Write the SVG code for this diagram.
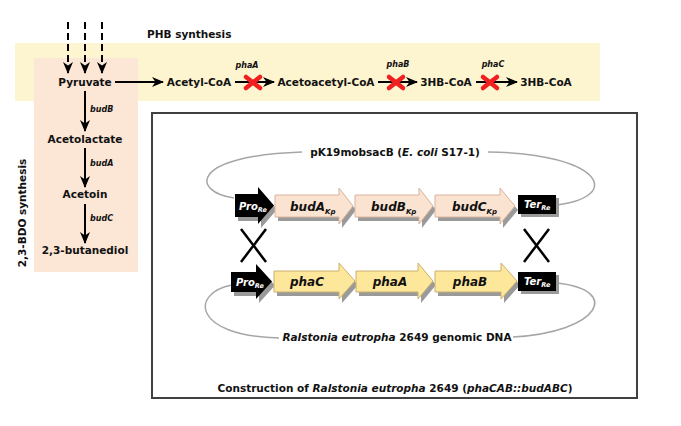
<svg xmlns="http://www.w3.org/2000/svg" width="681" height="426" viewBox="0 0 681 426">
<defs>
<style>
.t{font-family:"DejaVu Sans","Verdana",sans-serif;font-weight:bold;fill:#111}
.m{font-size:10.5px}
.s{font-size:8px;font-style:italic}
.g{font-size:12px;font-style:italic}
.w{font-size:10px;font-style:italic;fill:#fff}
.ln{stroke:#000;stroke-width:2;fill:none}
.x{stroke:#f02020;stroke-width:4.5;stroke-linecap:round}
.loop{stroke:#a6a6a6;stroke-width:1.5;fill:none}
.sh{fill:#9a9a9a}
.up{fill:#fbe3d2;stroke:#d8b49c;stroke-width:1}
.lo{fill:#fde79a;stroke:#c9b070;stroke-width:1}
.bk{fill:#000}
.cx{stroke:#000;stroke-width:2.5}
</style>
<marker id="ah" markerUnits="userSpaceOnUse" markerWidth="12" markerHeight="10" refX="11" refY="5" orient="auto" viewBox="0 0 12 10">
<path d="M0,0 L12,5 L0,10 L3.5,5 z" fill="#000"/>
</marker>
</defs>
<rect width="681" height="426" fill="#fff"/>
<rect x="15" y="43" width="585" height="58" fill="#fdf4d0"/>
<rect x="34" y="58" width="104" height="214" fill="#fce6d6"/>
<text class="t m" x="147" y="38">PHB synthesis</text>
<text class="t m" transform="translate(26,213) rotate(-90)" text-anchor="middle">2,3-BDO synthesis</text>

<g id="connectors">
<line class="ln" x1="68" y1="22" x2="68" y2="73" stroke-dasharray="7,4" marker-end="url(#ah)"/>
<line class="ln" x1="85" y1="22" x2="85" y2="73" stroke-dasharray="7,4" marker-end="url(#ah)"/>
<line class="ln" x1="102" y1="22" x2="102" y2="73" stroke-dasharray="7,4" marker-end="url(#ah)"/>
<line class="ln" x1="115" y1="82" x2="163" y2="82" marker-end="url(#ah)"/>
<line class="ln" x1="235" y1="82" x2="274" y2="82" marker-end="url(#ah)"/>
<line class="ln" x1="378" y1="82" x2="417" y2="82" marker-end="url(#ah)"/>
<line class="ln" x1="476" y1="82" x2="517" y2="82" marker-end="url(#ah)"/>
<line class="ln" x1="85" y1="91" x2="85" y2="131" marker-end="url(#ah)"/>
<line class="ln" x1="85" y1="148" x2="85" y2="187" marker-end="url(#ah)"/>
<line class="ln" x1="85" y1="204" x2="85" y2="243" marker-end="url(#ah)"/>
<g class="x"><line x1="246" y1="77" x2="260" y2="88"/><line x1="246" y1="88" x2="260" y2="77"/></g>
<g class="x"><line x1="389" y1="77" x2="403" y2="88"/><line x1="389" y1="88" x2="403" y2="77"/></g>
<g class="x"><line x1="483" y1="77" x2="497" y2="88"/><line x1="483" y1="88" x2="497" y2="77"/></g>
</g>
<text class="t s" x="247" y="68" text-anchor="middle">phaA</text>
<text class="t s" x="398" y="67" text-anchor="middle">phaB</text>
<text class="t s" x="493" y="67" text-anchor="middle">phaC</text>
<text class="t s" x="90" y="112">budB</text>
<text class="t s" x="90" y="166">budA</text>
<text class="t s" x="90" y="221">budC</text>

<g id="pyruvate"><text class="t m" x="85" y="86" text-anchor="middle">Pyruvate</text></g>
<g id="acetylcoa"><text class="t m" x="199" y="86" text-anchor="middle">Acetyl-CoA</text></g>
<g id="acetoacetylcoa"><text class="t m" x="326" y="86" text-anchor="middle">Acetoacetyl-CoA</text></g>
<g id="hbcoa1"><text class="t m" x="446" y="86" text-anchor="middle">3HB-CoA</text></g>
<g id="hbcoa2"><text class="t m" x="546" y="86" text-anchor="middle">3HB-CoA</text></g>
<g id="acetolactate"><text class="t m" x="85" y="143" text-anchor="middle">Acetolactate</text></g>
<g id="acetoin"><text class="t m" x="85" y="198" text-anchor="middle">Acetoin</text></g>
<g id="butanediol"><text class="t m" x="85" y="254" text-anchor="middle">2,3-butanediol</text></g>

<g id="construction">
<rect x="152" y="113" width="485" height="285" fill="none" stroke="#404040" stroke-width="2"/>
<path class="loop" d="M234,198 C192,192 188,156 302,152"/>
<path class="loop" d="M488,152 C600,153 625,196 557,205"/>
<path class="loop" d="M232,285 C190,293 192,336 279,338"/>
<path class="loop" d="M513,337 C600,332 622,290 557,283"/>
<text class="t m" x="395" y="156" text-anchor="middle">pK19mobsacB (<tspan font-style="italic">E. coli</tspan> S17-1)</text>
<text class="t m" x="397" y="341" text-anchor="middle"><tspan font-style="italic">Ralstonia eutropha</tspan> 2649 genomic DNA</text>
<text class="t m" x="395" y="392" text-anchor="middle">Construction of <tspan font-style="italic">Ralstonia eutropha</tspan> 2649 (<tspan font-style="italic">phaCAB::budABC</tspan>)</text>

<g id="pro-upper">
<path class="sh" transform="translate(3,4)" d="M235,194 H258 V187 L274,205.5 L258,224 V217 H235 Z"/>
<path class="bk" d="M235,194 H258 V187 L274,205.5 L258,224 V217 H235 Z"/>
<text class="t w" x="239" y="210">Pro<tspan font-size="6.5px" dy="2">Re</tspan></text>
</g>
<g id="budA">
<path class="sh" transform="translate(3,4)" d="M275,195 H339 V188 L353,206 L339,224 V217 H275 Z"/>
<path class="up" d="M275,195 H339 V188 L353,206 L339,224 V217 H275 Z"/>
<text class="t g" x="290" y="211">budA<tspan font-size="7px" dy="3">Kp</tspan></text>
</g>
<g id="budB">
<path class="sh" transform="translate(3,4)" d="M355,195 H419 V188 L433,206 L419,224 V217 H355 Z"/>
<path class="up" d="M355,195 H419 V188 L433,206 L419,224 V217 H355 Z"/>
<text class="t g" x="371" y="211">budB<tspan font-size="7px" dy="3">Kp</tspan></text>
</g>
<g id="budC">
<path class="sh" transform="translate(3,4)" d="M435,195 H500 V188 L515,206 L500,224 V217 H435 Z"/>
<path class="up" d="M435,195 H500 V188 L515,206 L500,224 V217 H435 Z"/>
<text class="t g" x="452" y="211">budC<tspan font-size="7px" dy="3">Kp</tspan></text>
</g>
<g id="ter-upper">
<rect class="sh" x="521" y="198" width="38" height="19"/>
<rect class="bk" x="518" y="195" width="38" height="19"/>
<text class="t w" x="524" y="208">Ter<tspan font-size="6.5px" dy="2">Re</tspan></text>
</g>
<g id="cross-left"><line class="cx" x1="241" y1="229" x2="266" y2="262"/><line class="cx" x1="266" y1="229" x2="241" y2="262"/></g>
<g id="cross-right"><line class="cx" x1="524" y1="229" x2="549" y2="262"/><line class="cx" x1="549" y1="229" x2="524" y2="262"/></g>
<g id="pro-lower">
<path class="sh" transform="translate(3,4)" d="M231,272 H256 V264 L272,281.5 L256,299 V292 H231 Z"/>
<path class="bk" d="M231,272 H256 V264 L272,281.5 L256,299 V292 H231 Z"/>
<text class="t w" x="236" y="286">Pro<tspan font-size="6.5px" dy="2">Re</tspan></text>
</g>
<g id="phaC">
<path class="sh" transform="translate(3,4)" d="M274,271 H339 V263 L355,281 L339,299 V292 H274 Z"/>
<path class="lo" d="M274,271 H339 V263 L355,281 L339,299 V292 H274 Z"/>
<text class="t g" x="307" y="286" text-anchor="middle">phaC</text>
</g>
<g id="phaA">
<path class="sh" transform="translate(3,4)" d="M356,271 H418 V263 L433,281 L418,299 V292 H356 Z"/>
<path class="lo" d="M356,271 H418 V263 L433,281 L418,299 V292 H356 Z"/>
<text class="t g" x="390" y="286" text-anchor="middle">phaA</text>
</g>
<g id="phaB">
<path class="sh" transform="translate(3,4)" d="M435,271 H501 V263 L517,281 L501,299 V292 H435 Z"/>
<path class="lo" d="M435,271 H501 V263 L517,281 L501,299 V292 H435 Z"/>
<text class="t g" x="470" y="286" text-anchor="middle">phaB</text>
</g>
<g id="ter-lower">
<rect class="sh" x="521" y="275" width="38" height="19"/>
<rect class="bk" x="518" y="272" width="38" height="19"/>
<text class="t w" x="524" y="285">Ter<tspan font-size="6.5px" dy="2">Re</tspan></text>
</g>
</g>
</svg>
